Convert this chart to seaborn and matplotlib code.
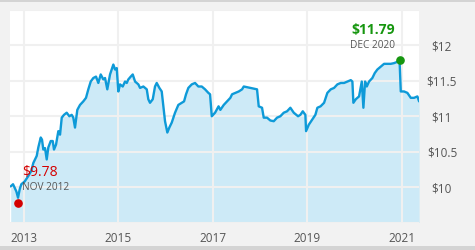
import matplotlib
matplotlib.use("Agg")
import matplotlib.pyplot as plt
import seaborn as sns
import pandas as pd
from matplotlib.patches import Rectangle

# ---- data (decimal years, NAV in $) ----
dates = [2012.718, 2012.767, 2012.803, 2012.837, 2012.873, 2012.909, 2012.943, 2013.015,
         2013.085, 2013.155, 2013.197, 2013.269, 2013.303, 2013.354, 2013.381, 2013.409,
         2013.445, 2013.481, 2013.515, 2013.566, 2013.608, 2013.635, 2013.678, 2013.727,
         2013.763, 2013.799, 2013.847, 2013.904, 2013.960, 2014.010, 2014.044, 2014.080,
         2014.129, 2014.186, 2014.256, 2014.313, 2014.362, 2014.413, 2014.468, 2014.525,
         2014.574, 2014.625, 2014.680, 2014.716, 2014.764, 2014.822, 2014.892, 2014.928,
         2014.964, 2014.998,
         2015.034, 2015.091, 2015.140, 2015.176, 2015.210, 2015.261, 2015.303, 2015.352,
         2015.422, 2015.458, 2015.528, 2015.600, 2015.633, 2015.669, 2015.727, 2015.775,
         2015.811, 2015.867, 2015.917, 2015.951, 2015.987, 2016.036, 2016.078, 2016.129,
         2016.199, 2016.269, 2016.341, 2016.390, 2016.432, 2016.481, 2016.553, 2016.623,
         2016.693, 2016.765, 2016.835, 2016.905, 2016.941, 2016.977, 2017.047, 2017.121,
         2017.159, 2017.231, 2017.301, 2017.371, 2017.407, 2017.477, 2017.549, 2017.619,
         2017.655, 2017.725, 2017.794, 2017.867, 2017.936, 2017.972, 2018.042, 2018.078,
         2018.148, 2018.218, 2018.290, 2018.360, 2018.430, 2018.502, 2018.572, 2018.642,
         2018.714, 2018.805, 2018.854, 2018.905, 2018.960, 2018.975, 2019.032, 2019.102,
         2019.172, 2019.214, 2019.282, 2019.356, 2019.426, 2019.498, 2019.568, 2019.638,
         2019.710, 2019.780, 2019.850, 2019.922, 2019.956, 2019.977, 2020.028, 2020.097,
         2020.155, 2020.189, 2020.225, 2020.261, 2020.309, 2020.379, 2020.430, 2020.485,
         2020.557, 2020.627, 2020.697, 2020.769, 2020.839, 2020.913, 2020.955, 2020.981,
         2021.051, 2021.121, 2021.193, 2021.263, 2021.333, 2021.369]
prices = [10.01, 10.04, 9.99, 9.94, 9.85, 9.97, 10.04, 10.08,
          10.15, 10.23, 10.34, 10.44, 10.56, 10.70, 10.67, 10.53,
          10.55, 10.39, 10.56, 10.65, 10.65, 10.53, 10.60, 10.79,
          10.74, 10.98, 11.02, 11.05, 11.00, 11.02, 10.98, 10.84,
          11.09, 11.16, 11.21, 11.26, 11.38, 11.49, 11.54, 11.56,
          11.47, 11.59, 11.52, 11.54, 11.38, 11.59, 11.73, 11.66,
          11.68, 11.35,
          11.45, 11.42, 11.49, 11.47, 11.52, 11.56, 11.59, 11.49,
          11.45, 11.40, 11.42, 11.38, 11.24, 11.19, 11.24, 11.42,
          11.47, 11.40, 11.35, 11.14, 10.93, 10.77, 10.84, 10.91,
          11.05, 11.16, 11.19, 11.21, 11.31, 11.40, 11.45, 11.47,
          11.42, 11.42, 11.38, 11.33, 11.31, 11.00, 11.05, 11.14,
          11.09, 11.16, 11.21, 11.26, 11.31, 11.33, 11.35, 11.38,
          11.42, 11.41, 11.40, 11.39, 11.38, 11.14, 11.12, 10.98,
          10.98, 10.94, 10.93, 10.98, 11.00, 11.05, 11.07, 11.12,
          11.05, 11.00, 11.02, 11.07, 11.02, 10.79, 10.88, 10.95,
          11.02, 11.12, 11.14, 11.19, 11.33, 11.38, 11.40, 11.45,
          11.47, 11.47, 11.49, 11.51, 11.49, 11.19, 11.24, 11.28,
          11.49, 11.12, 11.49, 11.42, 11.49, 11.54, 11.61, 11.66,
          11.70, 11.74, 11.74, 11.74, 11.75, 11.77, 11.79, 11.35,
          11.35, 11.33, 11.26, 11.26, 11.28, 11.21]

year_ticks = [2013, 2015, 2017, 2019, 2021]
year_labels = ["2013", "2015", "2017", "2019", "2021"]
price_ticks = [10, 10.5, 11, 11.5, 12]
price_labels = ["$10", "$10.5", "$11", "$11.5", "$12"]

min_date, min_price, min_label, min_when = 2012.873, 9.78, "$9.78", "NOV 2012"
max_date, max_price, max_label, max_when = 2020.955, 11.79, "$11.79", "DEC 2020"

df = pd.DataFrame({"date": dates, "price": prices})

# ---- style ----
sns.set_theme(style="white")
plt.rcParams["font.family"] = ["Open Sans", "DejaVu Sans"]

LINE = "#0e9ad8"
FILL = "#cdeaf7"
GRID = "#f0f0f0"
BG = "#f2f2f2"
TXT = "#555555"

fig = plt.figure(figsize=(4.75, 2.5), dpi=100, facecolor=BG)
W, H = 475, 250
ax = fig.add_axes([10 / W, 1 - 222.5 / H, (419 - 10) / W, (222.5 - 10) / H])
ax.set_facecolor("white")

ymin, ymax = 9.5, 12.5
ax.fill_between(df["date"], df["price"], ymin, color=FILL, lw=0, zorder=1)
sns.lineplot(data=df, x="date", y="price", ax=ax, color=LINE, linewidth=1.7,
             zorder=3, estimator=None, sort=False)

ax.set_xlim(2012.703, 2021.367)
ax.set_ylim(ymin, ymax)

ax.set_xticks(year_ticks)
ax.set_xticklabels(year_labels)
ax.set_yticks([9.5] + price_ticks + [12.5])
ax.set_yticklabels([""] + price_labels + [""])
ax.yaxis.tick_right()
ax.tick_params(axis="both", length=0, labelsize=8.5, labelcolor=TXT)
ax.tick_params(axis="x", pad=7)
ax.tick_params(axis="y", pad=16.5)
for lab in ax.get_yticklabels():
    lab.set_horizontalalignment("center")

ax.grid(True, color=GRID, linewidth=1.5, zorder=2)
ax.set_axisbelow(False)
for gl in ax.get_xgridlines() + ax.get_ygridlines():
    gl.set_zorder(2)
for s in ax.spines.values():
    s.set_visible(False)
ax.set_xlabel("")
ax.set_ylabel("")

# min / max markers
ax.plot([min_date], [min_price], "o", color="#d40000", ms=5.2, zorder=5, clip_on=False)
ax.plot([max_date], [max_price], "o", color="#16960f", ms=5.2, zorder=5, clip_on=False)

ax.annotate(min_label, (min_date, min_price), xytext=(2.6, 21.8), textcoords="offset points",
            ha="left", va="center", color="#d40000", fontsize=10, zorder=6)
ax.annotate(min_when, (min_date, min_price), xytext=(2.6, 11.2), textcoords="offset points",
            ha="left", va="center", color=TXT, fontsize=7.3, zorder=6)
ax.annotate(max_label, (max_date, max_price), xytext=(-3.2, 22.1), textcoords="offset points",
            ha="right", va="center", color="#16960f", fontsize=10, fontweight="bold", zorder=6)
ax.annotate(max_when, (max_date, max_price), xytext=(-3.2, 10.6), textcoords="offset points",
            ha="right", va="center", color=TXT, fontsize=7.3, zorder=6)

# top / bottom frame strips
fig.patches.append(Rectangle((0, 1 - 2 / H), 1, 2 / H, transform=fig.transFigure,
                             facecolor="#d4d4d4", edgecolor="none", zorder=0))
fig.patches.append(Rectangle((0, 0), 1, 4 / H, transform=fig.transFigure,
                             facecolor="#d4d4d4", edgecolor="none", zorder=0))

fig.savefig("out.png", dpi=100, facecolor=BG)
